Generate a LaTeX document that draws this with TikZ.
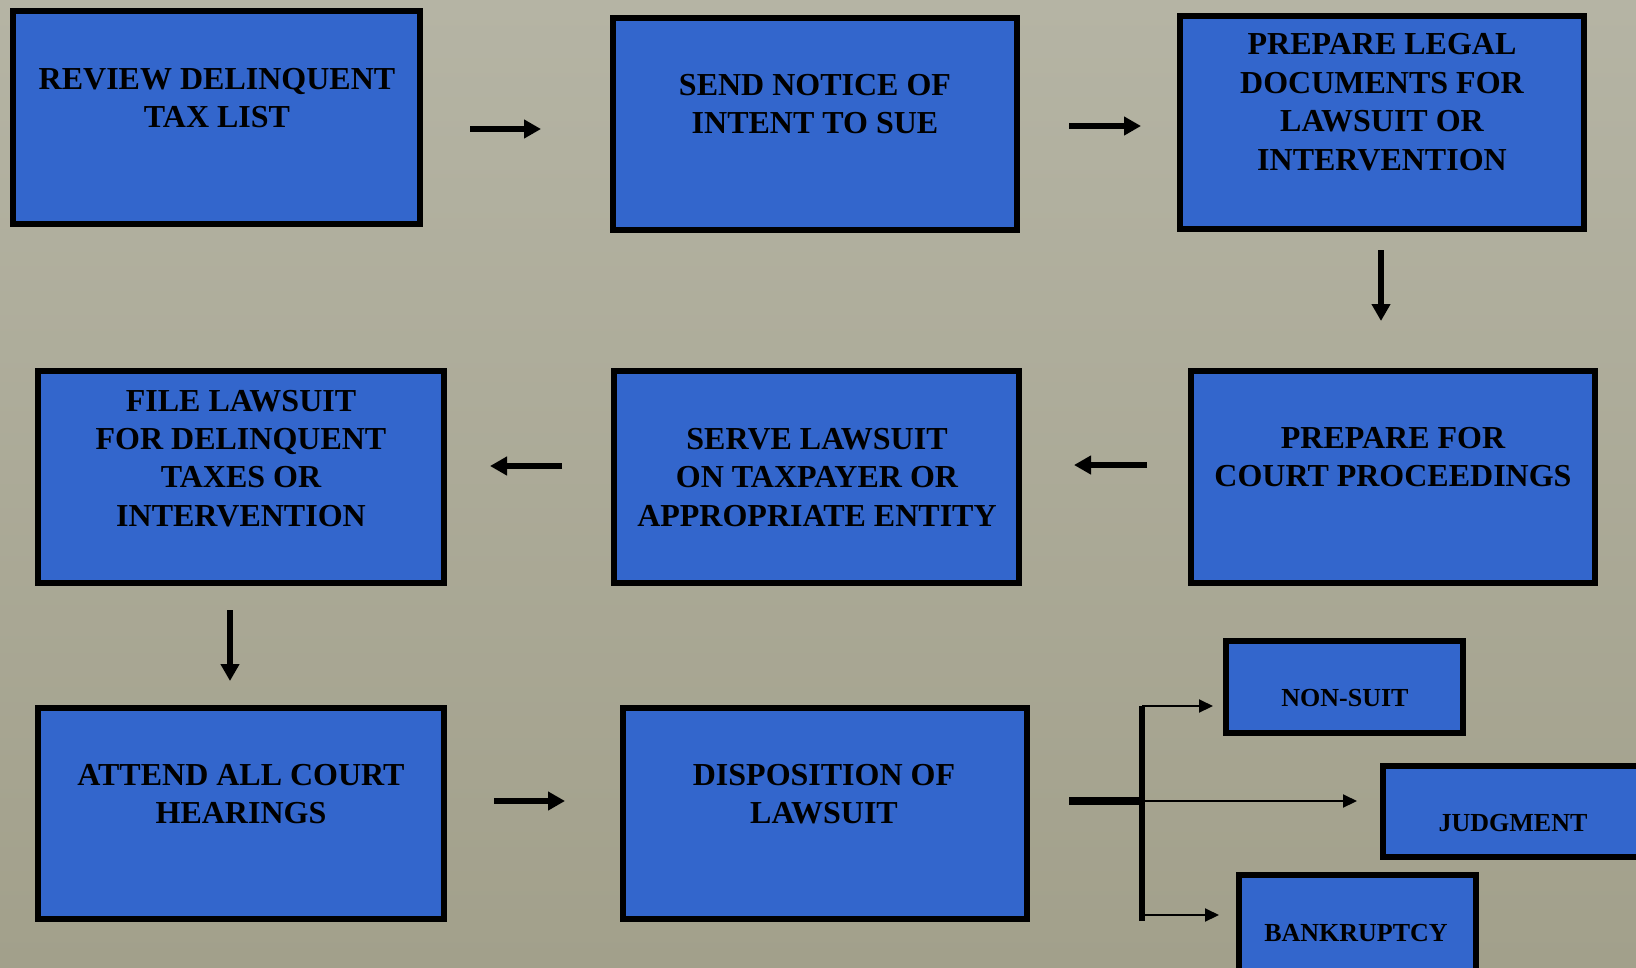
\documentclass[tikz,border=0pt]{standalone}
\usepackage{fontspec}
\setmainfont{Liberation Serif}
\usetikzlibrary{arrows.meta,fit}
\definecolor{bgtop}{HTML}{B5B4A4}
\definecolor{bgbottom}{HTML}{A2A08B}
\definecolor{stepblue}{HTML}{3366CC}
\begin{document}
\begin{tikzpicture}[x=1pt,y=-1pt,
  stepbox/.style={draw=black,line width=5.5pt,fill=stepblue,rectangle,inner sep=0pt},
  steptext/.style={align=center,font=\fontsize{32}{38.4}\selectfont\bfseries,inner sep=0pt,text depth=0pt},
  smalltext/.style={font=\fontsize{26}{31}\selectfont\bfseries,inner sep=0pt,text depth=0pt},
  flow/.style={line width=5.5pt,-{Triangle[length=17pt,width=18pt]}},
  branch/.style={line width=2pt,-{Triangle[length=14pt,width=13pt]}}]

% canvas
\useasboundingbox (0,0) rectangle (1636,967);
\clip (0,0) rectangle (1636,967);
\shade[top color=bgtop,bottom color=bgbottom] (0,0) rectangle (1636,967);

% step boxes
\node[stepbox,fit={(13,11)(420,224)}] (b1) {};
\node[stepbox,fit={(613,18)(1017,230)}] (b2) {};
\node[stepbox,fit={(1180,16)(1584,229)}] (b3) {};
\node[stepbox,fit={(1191,371)(1595,583)}] (b4) {};
\node[stepbox,fit={(614,371)(1019,583)}] (b5) {};
\node[stepbox,fit={(38,371)(444,583)}] (b6) {};
\node[stepbox,fit={(38,708)(444,919)}] (b7) {};
\node[stepbox,fit={(623,708)(1027,919)}] (b8) {};
\node[stepbox,fit={(1226,641)(1463,733)}] (nonsuit) {};
\node[stepbox,fit={(1383,766)(1652,857)}] (judgment) {};
\node[stepbox,fit={(1239,875)(1476,980)}] (bankruptcy) {};

% box texts
\node[steptext] (t1) at (217,98) {REVIEW DELINQUENT\\TAX LIST};
\node[steptext] (t2) at (815,104) {SEND NOTICE OF\\INTENT TO SUE};
\node[steptext] (t3) at (1382,102) {PREPARE LEGAL\\DOCUMENTS FOR\\LAWSUIT OR\\INTERVENTION};
\node[steptext] (t4) at (1393,457) {PREPARE FOR\\COURT PROCEEDINGS};
\node[steptext] (t5) at (817,477) {SERVE LAWSUIT\\ON TAXPAYER OR\\APPROPRIATE ENTITY};
\node[steptext] (t6) at (241,458) {FILE LAWSUIT\\FOR DELINQUENT\\TAXES OR\\INTERVENTION};
\node[steptext] (t7) at (241,794) {ATTEND ALL COURT\\HEARINGS};
\node[steptext] (t8) at (824,794) {DISPOSITION OF\\LAWSUIT};
\node[smalltext] (t9) at (1345,698) {NON-SUIT};
\node[smalltext] (t10) at (1513,823) {JUDGMENT};
\node[smalltext] (t11) at (1356,933) {BANKRUPTCY};

% arrow end points
\coordinate (a1s) at (470,129);  \coordinate (a1e) at (541,129);
\coordinate (a2s) at (1069,126); \coordinate (a2e) at (1141,126);
\coordinate (a3s) at (1381,250); \coordinate (a3e) at (1381,321);
\coordinate (a4s) at (1147,465); \coordinate (a4e) at (1074,465);
\coordinate (a5s) at (562,466);  \coordinate (a5e) at (490,466);
\coordinate (a6s) at (230,610);  \coordinate (a6e) at (230,681);
\coordinate (a7s) at (494,801);  \coordinate (a7e) at (565,801);

\draw[flow] (a1s) -- (a1e);
\draw[flow] (a2s) -- (a2e);
\draw[flow] (a3s) -- (a3e);
\draw[flow] (a4s) -- (a4e);
\draw[flow] (a5s) -- (a5e);
\draw[flow] (a6s) -- (a6e);
\draw[flow] (a7s) -- (a7e);

% outcome branching
\coordinate (br0) at (1069,801);
\coordinate (brtop) at (1142,706);
\coordinate (brmid) at (1142,801);
\coordinate (brbot) at (1142,921);
\coordinate (brlow) at (1142,915);
\coordinate (enon) at (1213,706);
\coordinate (ejud) at (1357,801);
\coordinate (ebank) at (1219,915);

\draw[line width=8pt] (br0) -- (brmid);
\draw[line width=5.5pt] (brtop) -- (brbot);
\draw[branch] (brtop) -- (enon);
\draw[branch] (brmid) -- (ejud);
\draw[branch] (brlow) -- (ebank);
\end{tikzpicture}
\end{document}
